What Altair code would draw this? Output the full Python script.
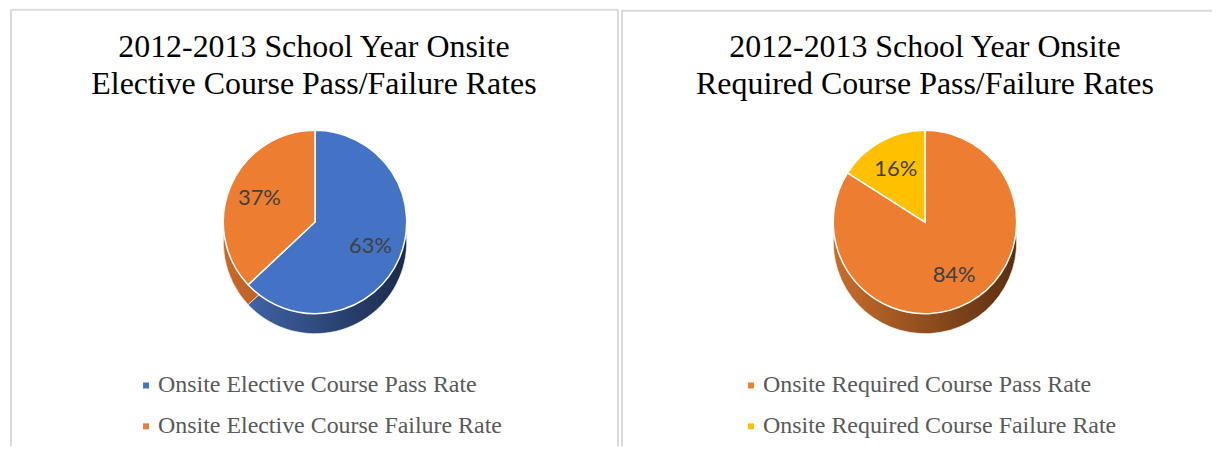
import altair as alt
import pandas as pd

# ---- data ----
left_title = ["2012-2013 School Year Onsite", "Elective Course Pass/Failure Rates"]
left_categories = ["Onsite Elective Course Pass Rate", "Onsite Elective Course Failure Rate"]
left_values = [63, 37]

right_title = ["2012-2013 School Year Onsite", "Required Course Pass/Failure Rates"]
right_categories = ["Onsite Required Course Pass Rate", "Onsite Required Course Failure Rate"]
right_values = [84, 16]

# ---- styles ----
BLUE = "#4472C4"
ORANGE = "#ED7D31"
YELLOW = "#FFC000"
BORDER = "#d9d9d9"


def grad(c0, c1):
    return {
        "gradient": "linear",
        "x1": 0, "y1": 0, "x2": 1, "y2": 0,
        "stops": [{"offset": 0, "color": c0}, {"offset": 1, "color": c1}],
    }


def panel(title_lines, cats, vals, top_colors, side_fills, width, height,
          cx, cy, r, depth, legend_x, borders):
    df = pd.DataFrame({"category": cats, "value": vals,
                       "order": list(range(len(cats)))})
    total = float(sum(vals))
    base = (
        alt.Chart(df)
        .transform_window(end="sum(value)", sort=[alt.SortField("order")])
        .transform_calculate(start="datum.end - datum.value",
                             mid="datum.end - datum.value / 2",
                             label="datum.value + '%'")
    )
    tscale = alt.Scale(domain=[0, total])
    layers = []

    one = alt.Data(values=[{}])
    for b in borders:
        if b == "left":
            enc = dict(x=alt.value(0), y=alt.value(0), y2=alt.value(height))
        elif b == "right":
            enc = dict(x=alt.value(width), y=alt.value(0), y2=alt.value(height))
        else:
            enc = dict(x=alt.value(0), x2=alt.value(width), y=alt.value(b))
        layers.append(alt.Chart(one).mark_rule(color=BORDER, strokeWidth=2).encode(**enc))

    # side (depth) of the pie
    for cat, fill in zip(cats, side_fills):
        layers.append(
            base.transform_filter(alt.datum.category == cat)
            .mark_arc(radius=r, fill=fill, stroke="#ffffff", strokeWidth=0.6)
            .encode(theta=alt.Theta("start:Q", scale=tscale), theta2="end:Q",
                    x=alt.value(cx), y=alt.value(cy + depth))
        )

    # top face
    layers.append(
        base.mark_arc(radius=r, stroke="#ffffff", strokeWidth=1.5)
        .encode(
            theta=alt.Theta("start:Q", scale=tscale), theta2="end:Q",
            color=alt.Color(
                "category:N",
                scale=alt.Scale(domain=cats, range=top_colors),
                legend=alt.Legend(
                    title=None, orient="none", legendX=legend_x, legendY=365,
                    symbolType="square", symbolSize=36, symbolStrokeWidth=0,
                    labelFont="Liberation Serif", labelFontSize=24,
                    labelColor="#595959", labelLimit=0, labelOffset=0,
                    rowPadding=17, padding=0,
                ),
            ),
            x=alt.value(cx), y=alt.value(cy),
        )
    )

    # percentage labels
    layers.append(
        base.mark_text(font="Lato", fontSize=22, color="#404040",
                       radius=r * 0.66, align="center", baseline="middle")
        .encode(theta=alt.Theta("mid:Q", scale=tscale, stack=False),
                text="label:N", x=alt.value(cx), y=alt.value(cy))
    )

    # title lines
    for line, yb in zip(title_lines, [47, 85]):
        layers.append(
            alt.Chart(one).mark_text(text=line, font="Liberation Serif",
                                     fontSize=32, color="#000000",
                                     align="center", baseline="alphabetic")
            .encode(x=alt.value(304), y=alt.value(yb))
        )

    return alt.layer(*layers).properties(width=width, height=height)


H = 438
left = panel(left_title, left_categories, left_values, [BLUE, ORANGE],
             [grad("#3f63a6", "#1b2a4a"), grad("#c8682a", "#b35b1d")],
             609, H, 305, 213, 92, 20, 123.5, ["left", "right", 0])
right = panel(right_title, right_categories, right_values, [ORANGE, YELLOW],
              [grad("#c96d2c", "#5a2e10"), grad("#c99a10", "#b88a00")],
              592, H, 304, 213, 92, 20, 117.5, ["left", 1])

chart = (
    alt.hconcat(left, right, spacing=2)
    .resolve_scale(color="independent", theta="independent")
    .properties(padding={"left": 2, "top": 0, "right": 0, "bottom": 0},
                background="#ffffff")
    .configure_view(strokeWidth=0)
)

chart.save("out.html", embed_options={"renderer": "svg", "actions": False})
